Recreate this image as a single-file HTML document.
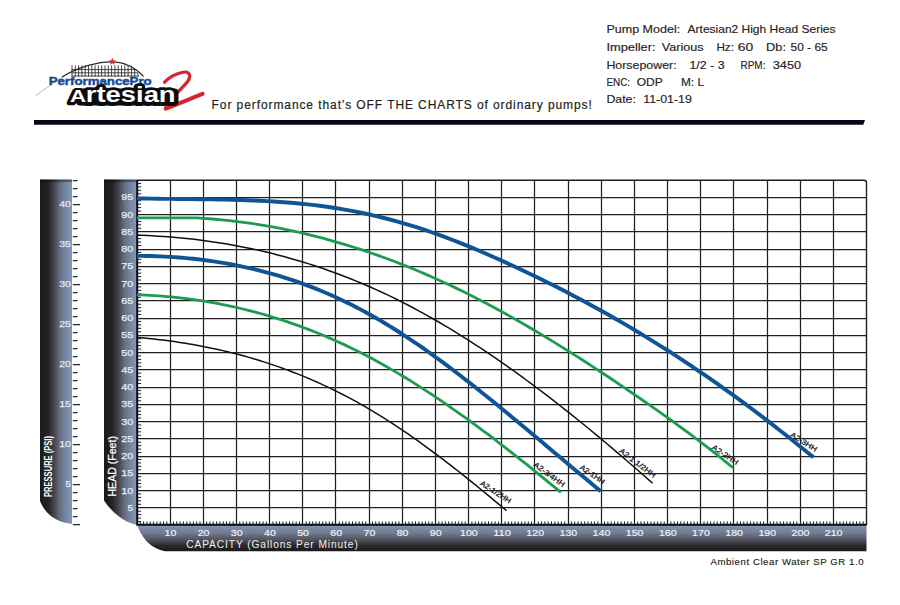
<!DOCTYPE html>
<html><head><meta charset="utf-8"><style>
html,body{margin:0;padding:0;background:#fff;}
body{width:900px;height:605px;overflow:hidden;}
svg{display:block;}
text{font-family:"Liberation Sans", sans-serif;}
</style></head><body>
<svg width="900" height="605" viewBox="0 0 900 605">
<defs>
<linearGradient id="gv" x1="0" y1="0" x2="1" y2="0">
 <stop offset="0" stop-color="#1b1b1c"/>
 <stop offset="0.25" stop-color="#232123"/>
 <stop offset="0.45" stop-color="#45464e"/>
 <stop offset="0.62" stop-color="#676d80"/>
 <stop offset="0.8" stop-color="#7787a3"/>
 <stop offset="1" stop-color="#8298ba"/>
</linearGradient>
<linearGradient id="gh" x1="0" y1="0" x2="0" y2="1">
 <stop offset="0" stop-color="#8494b1"/>
 <stop offset="0.3" stop-color="#727c93"/>
 <stop offset="0.55" stop-color="#52555f"/>
 <stop offset="0.8" stop-color="#27272a"/>
 <stop offset="1" stop-color="#1b1b1c"/>
</linearGradient>
</defs>
<rect width="900" height="605" fill="#fff"/>

<text x="606.4" y="33.3" font-size="10.4" fill="#262324" stroke="#262324" stroke-width="0.15" textLength="73.8" lengthAdjust="spacingAndGlyphs">Pump Model:</text>
<text x="687.6" y="33.3" font-size="10.4" fill="#262324" stroke="#262324" stroke-width="0.15" textLength="147.9" lengthAdjust="spacingAndGlyphs">Artesian2 High Head Series</text>
<text x="606.4" y="51.1" font-size="10.4" fill="#262324" stroke="#262324" stroke-width="0.15" textLength="49.2" lengthAdjust="spacingAndGlyphs">Impeller:</text>
<text x="661.8" y="51.1" font-size="10.4" fill="#262324" stroke="#262324" stroke-width="0.15" textLength="41.8" lengthAdjust="spacingAndGlyphs">Various</text>
<text x="716.4" y="51.1" font-size="10.4" fill="#262324" stroke="#262324" stroke-width="0.15" textLength="17.6" lengthAdjust="spacingAndGlyphs">Hz:</text>
<text x="737.8" y="51.1" font-size="10.4" fill="#262324" stroke="#262324" stroke-width="0.15" textLength="15.4" lengthAdjust="spacingAndGlyphs">60</text>
<text x="766.0" y="51.1" font-size="10.4" fill="#262324" stroke="#262324" stroke-width="0.15" textLength="20.0" lengthAdjust="spacingAndGlyphs">Db:</text>
<text x="790.5" y="51.1" font-size="10.4" fill="#262324" stroke="#262324" stroke-width="0.15" textLength="37.2" lengthAdjust="spacingAndGlyphs">50 - 65</text>
<text x="606.4" y="68.7" font-size="10.4" fill="#262324" stroke="#262324" stroke-width="0.15" textLength="70.3" lengthAdjust="spacingAndGlyphs">Horsepower:</text>
<text x="689.4" y="68.7" font-size="10.4" fill="#262324" stroke="#262324" stroke-width="0.15" textLength="35.2" lengthAdjust="spacingAndGlyphs">1/2 - 3</text>
<text x="740.5" y="68.7" font-size="10.4" fill="#262324" stroke="#262324" stroke-width="0.15" textLength="24.9" lengthAdjust="spacingAndGlyphs">RPM:</text>
<text x="772.7" y="68.7" font-size="10.4" fill="#262324" stroke="#262324" stroke-width="0.15" textLength="28.4" lengthAdjust="spacingAndGlyphs">3450</text>
<text x="606.4" y="85.5" font-size="10.4" fill="#262324" stroke="#262324" stroke-width="0.15" textLength="23.7" lengthAdjust="spacingAndGlyphs">ENC:</text>
<text x="636.7" y="85.5" font-size="10.4" fill="#262324" stroke="#262324" stroke-width="0.15" textLength="26.0" lengthAdjust="spacingAndGlyphs">ODP</text>
<text x="681.0" y="85.5" font-size="10.4" fill="#262324" stroke="#262324" stroke-width="0.15" textLength="23.0" lengthAdjust="spacingAndGlyphs">M: L</text>
<text x="606.4" y="102.5" font-size="10.4" fill="#262324" stroke="#262324" stroke-width="0.15" textLength="29.5" lengthAdjust="spacingAndGlyphs">Date:</text>
<text x="643.2" y="102.5" font-size="10.4" fill="#262324" stroke="#262324" stroke-width="0.15" textLength="48.7" lengthAdjust="spacingAndGlyphs">11-01-19</text>
<text x="211.6" y="109.4" font-size="12" fill="#231f20" stroke="#231f20" stroke-width="0.2" textLength="380.2" lengthAdjust="spacing">For performance that&#8217;s OFF THE CHARTS of ordinary pumps!</text>
<polygon points="34,120 865,120 863.3,124.8 34,124.8" fill="#07061c"/>
<path d="M35.5,95.8 C45,89 55,81.5 64,76.5" stroke="#a0a0a0" stroke-width="0.8" fill="none"/>
<clipPath id="fc"><path d="M60,80 L60,60 L120,60 C128,62 134,66 141,77.5 L141,80 Z"/></clipPath>
<g clip-path="url(#fc)"><path d="M72.0,65.3 V76.6 M75.3,65.3 V76.6 M78.6,65.3 V76.6 M81.9,65.3 V76.6 M85.2,65.3 V76.6 M88.5,65.3 V76.6 M91.8,65.3 V76.6 M95.1,65.3 V76.6 M98.4,65.3 V76.6 M101.7,65.3 V76.6 M105.0,65.3 V76.6 M108.3,65.3 V76.6 M111.6,65.3 V76.6 M114.9,65.3 V76.6 M118.2,65.3 V76.6 M121.5,65.3 V76.6 M124.8,65.3 V76.6 M128.1,65.3 V76.6 M131.4,65.3 V76.6 M134.7,65.3 V76.6 M138.0,65.3 V76.6" stroke="#333" stroke-width="0.9"/><path d="M71.5,69.6 H139 M71.5,72.8 H139 M71.5,76 H139" stroke="#333" stroke-width="0.9"/></g>
<path d="M62,77 C80,66 100,61.5 112,61.8 C124,62 134,66 143.5,76.5" stroke="#2a2a2a" stroke-width="1.2" fill="none"/>
<polygon points="112.30,57.80 113.30,60.22 115.91,60.43 113.92,62.13 114.53,64.67 112.30,63.30 110.07,64.67 110.68,62.13 108.69,60.43 111.30,60.22" fill="#e02a2a"/>
<text x="48.7" y="85.3" font-size="11.4" font-weight="bold" fill="#154b95" stroke="#154b95" stroke-width="0.45" textLength="103" lengthAdjust="spacingAndGlyphs">PerformancePro</text>
<path d="M164.6,82.2 C168,78.5 175,73.8 183,72.2 C189.5,71 191.5,76 188,81 C184,86.5 176,93.5 170,100 C168,103 166.5,106 165.6,108.6" stroke="#d6252c" stroke-width="3.2" fill="none" stroke-linecap="round" stroke-linejoin="round"/>
<path d="M165.6,108.6 C178,104 192,98 202.6,93.8" stroke="#d6252c" stroke-width="4" fill="none" stroke-linecap="round"/>
<rect x="76" y="88.6" width="102.5" height="17" rx="4" fill="#0c0c0c"/>
<g fill="#0c0c0c" stroke="#0c0c0c" stroke-width="4.6" stroke-linejoin="round" transform="translate(-0.9,0.8)"><text x="70" y="102.3" font-size="17.2" font-weight="bold" textLength="16" lengthAdjust="spacingAndGlyphs">A</text><text transform="translate(85.8,102.3) scale(1,1.3)" font-size="17.2" font-weight="bold" textLength="89.8" lengthAdjust="spacingAndGlyphs">rtesian</text></g>
<g fill="#0c0c0c" stroke="#0c0c0c" stroke-width="4.2" stroke-linejoin="round"><text x="70" y="102.3" font-size="17.2" font-weight="bold" textLength="16" lengthAdjust="spacingAndGlyphs">A</text><text transform="translate(85.8,102.3) scale(1,1.3)" font-size="17.2" font-weight="bold" textLength="89.8" lengthAdjust="spacingAndGlyphs">rtesian</text></g>
<g fill="#ffffff"><text x="70" y="102.3" font-size="17.2" font-weight="bold" textLength="16" lengthAdjust="spacingAndGlyphs">A</text><text transform="translate(85.8,102.3) scale(1,1.3)" font-size="17.2" font-weight="bold" textLength="89.8" lengthAdjust="spacingAndGlyphs">rtesian</text></g>
<path d="M40,179.5 H72 V524 C64,523 57,520.5 51.5,516.5 C46,512 42.5,507 40,501 Z" fill="url(#gv)"/>
<rect x="40" y="179.5" width="32" height="2.6" fill="#000" opacity="0.35"/>
<path d="M72.8,524.70 h7.3 M72.8,516.70 h4.8 M72.8,508.70 h4.8 M72.8,500.70 h4.8 M72.8,492.70 h4.8 M72.8,484.70 h7.3 M72.8,476.70 h4.8 M72.8,468.70 h4.8 M72.8,460.70 h4.8 M72.8,452.70 h4.8 M72.8,444.70 h7.3 M72.8,436.70 h4.8 M72.8,428.70 h4.8 M72.8,420.70 h4.8 M72.8,412.70 h4.8 M72.8,404.70 h7.3 M72.8,396.70 h4.8 M72.8,388.70 h4.8 M72.8,380.70 h4.8 M72.8,372.70 h4.8 M72.8,364.70 h7.3 M72.8,356.70 h4.8 M72.8,348.70 h4.8 M72.8,340.70 h4.8 M72.8,332.70 h4.8 M72.8,324.70 h7.3 M72.8,316.70 h4.8 M72.8,308.70 h4.8 M72.8,300.70 h4.8 M72.8,292.70 h4.8 M72.8,284.70 h7.3 M72.8,276.70 h4.8 M72.8,268.70 h4.8 M72.8,260.70 h4.8 M72.8,252.70 h4.8 M72.8,244.70 h7.3 M72.8,236.70 h4.8 M72.8,228.70 h4.8 M72.8,220.70 h4.8 M72.8,212.70 h4.8 M72.8,204.70 h7.3 M72.8,196.70 h4.8 M72.8,188.70 h4.8 M72.8,180.70 h4.8" stroke="#262626" stroke-width="1.2"/>
<text x="65.6" y="487.00" font-size="9.4" fill="#e2e9f4" stroke="#e2e9f4" stroke-width="0.25" textLength="5.4" lengthAdjust="spacingAndGlyphs">5</text>
<text x="59.2" y="447.00" font-size="9.4" fill="#e2e9f4" stroke="#e2e9f4" stroke-width="0.25" textLength="11.8" lengthAdjust="spacingAndGlyphs">10</text>
<text x="59.2" y="407.00" font-size="9.4" fill="#e2e9f4" stroke="#e2e9f4" stroke-width="0.25" textLength="11.8" lengthAdjust="spacingAndGlyphs">15</text>
<text x="59.2" y="367.00" font-size="9.4" fill="#e2e9f4" stroke="#e2e9f4" stroke-width="0.25" textLength="11.8" lengthAdjust="spacingAndGlyphs">20</text>
<text x="59.2" y="327.00" font-size="9.4" fill="#e2e9f4" stroke="#e2e9f4" stroke-width="0.25" textLength="11.8" lengthAdjust="spacingAndGlyphs">25</text>
<text x="59.2" y="287.00" font-size="9.4" fill="#e2e9f4" stroke="#e2e9f4" stroke-width="0.25" textLength="11.8" lengthAdjust="spacingAndGlyphs">30</text>
<text x="59.2" y="247.00" font-size="9.4" fill="#e2e9f4" stroke="#e2e9f4" stroke-width="0.25" textLength="11.8" lengthAdjust="spacingAndGlyphs">35</text>
<text x="59.2" y="207.00" font-size="9.4" fill="#e2e9f4" stroke="#e2e9f4" stroke-width="0.25" textLength="11.8" lengthAdjust="spacingAndGlyphs">40</text>
<text transform="translate(51.6,497.0) rotate(-90)" font-size="11.8" font-weight="bold" fill="#fff" textLength="61" lengthAdjust="spacingAndGlyphs">PRESSURE (PSI)</text>
<path d="M104,179.5 H137 V525 C130,523.5 124,520.5 119,516.5 C113,512 108,506.5 104,500.5 Z" fill="url(#gv)"/>
<rect x="104" y="179.5" width="33" height="2.6" fill="#000" opacity="0.35"/>
<text x="127.6" y="510.75" font-size="9.7" fill="#e6edf7" stroke="#e6edf7" stroke-width="0.25" textLength="5.6" lengthAdjust="spacingAndGlyphs">5</text>
<text x="121.2" y="493.50" font-size="9.7" fill="#e6edf7" stroke="#e6edf7" stroke-width="0.25" textLength="12.0" lengthAdjust="spacingAndGlyphs">10</text>
<text x="121.2" y="476.25" font-size="9.7" fill="#e6edf7" stroke="#e6edf7" stroke-width="0.25" textLength="12.0" lengthAdjust="spacingAndGlyphs">15</text>
<text x="121.2" y="459.00" font-size="9.7" fill="#e6edf7" stroke="#e6edf7" stroke-width="0.25" textLength="12.0" lengthAdjust="spacingAndGlyphs">20</text>
<text x="121.2" y="441.75" font-size="9.7" fill="#e6edf7" stroke="#e6edf7" stroke-width="0.25" textLength="12.0" lengthAdjust="spacingAndGlyphs">25</text>
<text x="121.2" y="424.50" font-size="9.7" fill="#e6edf7" stroke="#e6edf7" stroke-width="0.25" textLength="12.0" lengthAdjust="spacingAndGlyphs">30</text>
<text x="121.2" y="407.25" font-size="9.7" fill="#e6edf7" stroke="#e6edf7" stroke-width="0.25" textLength="12.0" lengthAdjust="spacingAndGlyphs">35</text>
<text x="121.2" y="390.00" font-size="9.7" fill="#e6edf7" stroke="#e6edf7" stroke-width="0.25" textLength="12.0" lengthAdjust="spacingAndGlyphs">40</text>
<text x="121.2" y="372.75" font-size="9.7" fill="#e6edf7" stroke="#e6edf7" stroke-width="0.25" textLength="12.0" lengthAdjust="spacingAndGlyphs">45</text>
<text x="121.2" y="355.50" font-size="9.7" fill="#e6edf7" stroke="#e6edf7" stroke-width="0.25" textLength="12.0" lengthAdjust="spacingAndGlyphs">50</text>
<text x="121.2" y="338.25" font-size="9.7" fill="#e6edf7" stroke="#e6edf7" stroke-width="0.25" textLength="12.0" lengthAdjust="spacingAndGlyphs">55</text>
<text x="121.2" y="321.00" font-size="9.7" fill="#e6edf7" stroke="#e6edf7" stroke-width="0.25" textLength="12.0" lengthAdjust="spacingAndGlyphs">60</text>
<text x="121.2" y="303.75" font-size="9.7" fill="#e6edf7" stroke="#e6edf7" stroke-width="0.25" textLength="12.0" lengthAdjust="spacingAndGlyphs">65</text>
<text x="121.2" y="286.50" font-size="9.7" fill="#e6edf7" stroke="#e6edf7" stroke-width="0.25" textLength="12.0" lengthAdjust="spacingAndGlyphs">70</text>
<text x="121.2" y="269.25" font-size="9.7" fill="#e6edf7" stroke="#e6edf7" stroke-width="0.25" textLength="12.0" lengthAdjust="spacingAndGlyphs">75</text>
<text x="121.2" y="252.00" font-size="9.7" fill="#e6edf7" stroke="#e6edf7" stroke-width="0.25" textLength="12.0" lengthAdjust="spacingAndGlyphs">80</text>
<text x="121.2" y="234.75" font-size="9.7" fill="#e6edf7" stroke="#e6edf7" stroke-width="0.25" textLength="12.0" lengthAdjust="spacingAndGlyphs">85</text>
<text x="121.2" y="217.50" font-size="9.7" fill="#e6edf7" stroke="#e6edf7" stroke-width="0.25" textLength="12.0" lengthAdjust="spacingAndGlyphs">90</text>
<text x="121.2" y="200.25" font-size="9.7" fill="#e6edf7" stroke="#e6edf7" stroke-width="0.25" textLength="12.0" lengthAdjust="spacingAndGlyphs">95</text>
<text transform="translate(115.8,496.5) rotate(-90)" font-size="11.2" fill="#fff" stroke="#fff" stroke-width="0.25" textLength="60.4" lengthAdjust="spacingAndGlyphs">HEAD (Feet)</text>
<path d="M137,525 H866.50 V551.2 H165 C156.5,549.5 150,545.5 145.5,540 C141.5,535 139,530 137,525 Z" fill="url(#gh)"/>
<text x="164.56" y="535.9" font-size="9.6" fill="#eef2f8" stroke="#eef2f8" stroke-width="0.2" textLength="11.8" lengthAdjust="spacingAndGlyphs">10</text>
<text x="197.72" y="535.9" font-size="9.6" fill="#eef2f8" stroke="#eef2f8" stroke-width="0.2" textLength="11.8" lengthAdjust="spacingAndGlyphs">20</text>
<text x="230.88" y="535.9" font-size="9.6" fill="#eef2f8" stroke="#eef2f8" stroke-width="0.2" textLength="11.8" lengthAdjust="spacingAndGlyphs">30</text>
<text x="264.04" y="535.9" font-size="9.6" fill="#eef2f8" stroke="#eef2f8" stroke-width="0.2" textLength="11.8" lengthAdjust="spacingAndGlyphs">40</text>
<text x="297.20" y="535.9" font-size="9.6" fill="#eef2f8" stroke="#eef2f8" stroke-width="0.2" textLength="11.8" lengthAdjust="spacingAndGlyphs">50</text>
<text x="330.35" y="535.9" font-size="9.6" fill="#eef2f8" stroke="#eef2f8" stroke-width="0.2" textLength="11.8" lengthAdjust="spacingAndGlyphs">60</text>
<text x="363.51" y="535.9" font-size="9.6" fill="#eef2f8" stroke="#eef2f8" stroke-width="0.2" textLength="11.8" lengthAdjust="spacingAndGlyphs">70</text>
<text x="396.67" y="535.9" font-size="9.6" fill="#eef2f8" stroke="#eef2f8" stroke-width="0.2" textLength="11.8" lengthAdjust="spacingAndGlyphs">80</text>
<text x="429.83" y="535.9" font-size="9.6" fill="#eef2f8" stroke="#eef2f8" stroke-width="0.2" textLength="11.8" lengthAdjust="spacingAndGlyphs">90</text>
<text x="459.99" y="535.9" font-size="9.6" fill="#eef2f8" stroke="#eef2f8" stroke-width="0.2" textLength="17.8" lengthAdjust="spacingAndGlyphs">100</text>
<text x="493.15" y="535.9" font-size="9.6" fill="#eef2f8" stroke="#eef2f8" stroke-width="0.2" textLength="17.8" lengthAdjust="spacingAndGlyphs">110</text>
<text x="526.31" y="535.9" font-size="9.6" fill="#eef2f8" stroke="#eef2f8" stroke-width="0.2" textLength="17.8" lengthAdjust="spacingAndGlyphs">120</text>
<text x="559.47" y="535.9" font-size="9.6" fill="#eef2f8" stroke="#eef2f8" stroke-width="0.2" textLength="17.8" lengthAdjust="spacingAndGlyphs">130</text>
<text x="592.63" y="535.9" font-size="9.6" fill="#eef2f8" stroke="#eef2f8" stroke-width="0.2" textLength="17.8" lengthAdjust="spacingAndGlyphs">140</text>
<text x="625.78" y="535.9" font-size="9.6" fill="#eef2f8" stroke="#eef2f8" stroke-width="0.2" textLength="17.8" lengthAdjust="spacingAndGlyphs">150</text>
<text x="658.94" y="535.9" font-size="9.6" fill="#eef2f8" stroke="#eef2f8" stroke-width="0.2" textLength="17.8" lengthAdjust="spacingAndGlyphs">160</text>
<text x="692.10" y="535.9" font-size="9.6" fill="#eef2f8" stroke="#eef2f8" stroke-width="0.2" textLength="17.8" lengthAdjust="spacingAndGlyphs">170</text>
<text x="725.26" y="535.9" font-size="9.6" fill="#eef2f8" stroke="#eef2f8" stroke-width="0.2" textLength="17.8" lengthAdjust="spacingAndGlyphs">180</text>
<text x="758.42" y="535.9" font-size="9.6" fill="#eef2f8" stroke="#eef2f8" stroke-width="0.2" textLength="17.8" lengthAdjust="spacingAndGlyphs">190</text>
<text x="791.58" y="535.9" font-size="9.6" fill="#eef2f8" stroke="#eef2f8" stroke-width="0.2" textLength="17.8" lengthAdjust="spacingAndGlyphs">200</text>
<text x="824.74" y="535.9" font-size="9.6" fill="#eef2f8" stroke="#eef2f8" stroke-width="0.2" textLength="17.8" lengthAdjust="spacingAndGlyphs">210</text>
<text x="186.2" y="547.9" font-size="10.2" fill="#f0f0f0" textLength="171.6" lengthAdjust="spacing">CAPACITY (Gallons Per Minute)</text>
<text x="710.4" y="565.0" font-size="9.6" fill="#231f20" stroke="#231f20" stroke-width="0.15" textLength="153.2" lengthAdjust="spacing">Ambient Clear Water SP GR 1.0</text>
<rect x="137.0" y="180" width="729.50" height="345.0" fill="#fff"/>
<path d="M170.50,180 V525.0 M203.50,180 V525.0 M236.50,180 V525.0 M269.50,180 V525.0 M302.50,180 V525.0 M335.50,180 V525.0 M369.50,180 V525.0 M402.50,180 V525.0 M435.50,180 V525.0 M468.50,180 V525.0 M501.50,180 V525.0 M534.50,180 V525.0 M568.50,180 V525.0 M601.50,180 V525.0 M634.50,180 V525.0 M667.50,180 V525.0 M700.50,180 V525.0 M733.50,180 V525.0 M767.50,180 V525.0 M800.50,180 V525.0 M833.50,180 V525.0 M137.0,507.50 H866.50 M137.0,490.50 H866.50 M137.0,473.50 H866.50 M137.0,456.50 H866.50 M137.0,438.50 H866.50 M137.0,421.50 H866.50 M137.0,404.50 H866.50 M137.0,387.50 H866.50 M137.0,369.50 H866.50 M137.0,352.50 H866.50 M137.0,335.50 H866.50 M137.0,318.50 H866.50 M137.0,300.50 H866.50 M137.0,283.50 H866.50 M137.0,266.50 H866.50 M137.0,249.50 H866.50 M137.0,231.50 H866.50 M137.0,214.50 H866.50 M137.0,197.50 H866.50" stroke="#202020" stroke-width="1.25" fill="none"/>
<path d="M137.0,521.55 h4.2 M137.0,518.10 h4.2 M137.0,514.65 h4.2 M137.0,511.20 h4.2 M137.0,504.30 h4.2 M137.0,500.85 h4.2 M137.0,497.40 h4.2 M137.0,493.95 h4.2 M137.0,487.05 h4.2 M137.0,483.60 h4.2 M137.0,480.15 h4.2 M137.0,476.70 h4.2 M137.0,469.80 h4.2 M137.0,466.35 h4.2 M137.0,462.90 h4.2 M137.0,459.45 h4.2 M137.0,452.55 h4.2 M137.0,449.10 h4.2 M137.0,445.65 h4.2 M137.0,442.20 h4.2 M137.0,435.30 h4.2 M137.0,431.85 h4.2 M137.0,428.40 h4.2 M137.0,424.95 h4.2 M137.0,418.05 h4.2 M137.0,414.60 h4.2 M137.0,411.15 h4.2 M137.0,407.70 h4.2 M137.0,400.80 h4.2 M137.0,397.35 h4.2 M137.0,393.90 h4.2 M137.0,390.45 h4.2 M137.0,383.55 h4.2 M137.0,380.10 h4.2 M137.0,376.65 h4.2 M137.0,373.20 h4.2 M137.0,366.30 h4.2 M137.0,362.85 h4.2 M137.0,359.40 h4.2 M137.0,355.95 h4.2 M137.0,349.05 h4.2 M137.0,345.60 h4.2 M137.0,342.15 h4.2 M137.0,338.70 h4.2 M137.0,331.80 h4.2 M137.0,328.35 h4.2 M137.0,324.90 h4.2 M137.0,321.45 h4.2 M137.0,314.55 h4.2 M137.0,311.10 h4.2 M137.0,307.65 h4.2 M137.0,304.20 h4.2 M137.0,297.30 h4.2 M137.0,293.85 h4.2 M137.0,290.40 h4.2 M137.0,286.95 h4.2 M137.0,280.05 h4.2 M137.0,276.60 h4.2 M137.0,273.15 h4.2 M137.0,269.70 h4.2 M137.0,262.80 h4.2 M137.0,259.35 h4.2 M137.0,255.90 h4.2 M137.0,252.45 h4.2 M137.0,245.55 h4.2 M137.0,242.10 h4.2 M137.0,238.65 h4.2 M137.0,235.20 h4.2 M137.0,228.30 h4.2 M137.0,224.85 h4.2 M137.0,221.40 h4.2 M137.0,217.95 h4.2 M137.0,211.05 h4.2 M137.0,207.60 h4.2 M137.0,204.15 h4.2 M137.0,200.70 h4.2 M137.0,193.80 h4.2 M137.0,190.35 h4.2 M137.0,186.90 h4.2 M137.0,183.45 h4.2 M140.32,525.0 v-3.6 M143.63,525.0 v-3.6 M146.95,525.0 v-3.6 M150.26,525.0 v-3.6 M153.58,525.0 v-3.6 M156.90,525.0 v-3.6 M160.21,525.0 v-3.6 M163.53,525.0 v-3.6 M166.84,525.0 v-3.6 M173.47,525.0 v-3.6 M176.79,525.0 v-3.6 M180.11,525.0 v-3.6 M183.42,525.0 v-3.6 M186.74,525.0 v-3.6 M190.05,525.0 v-3.6 M193.37,525.0 v-3.6 M196.69,525.0 v-3.6 M200.00,525.0 v-3.6 M206.63,525.0 v-3.6 M209.95,525.0 v-3.6 M213.27,525.0 v-3.6 M216.58,525.0 v-3.6 M219.90,525.0 v-3.6 M223.21,525.0 v-3.6 M226.53,525.0 v-3.6 M229.85,525.0 v-3.6 M233.16,525.0 v-3.6 M239.79,525.0 v-3.6 M243.11,525.0 v-3.6 M246.42,525.0 v-3.6 M249.74,525.0 v-3.6 M253.06,525.0 v-3.6 M256.37,525.0 v-3.6 M259.69,525.0 v-3.6 M263.00,525.0 v-3.6 M266.32,525.0 v-3.6 M272.95,525.0 v-3.6 M276.27,525.0 v-3.6 M279.58,525.0 v-3.6 M282.90,525.0 v-3.6 M286.22,525.0 v-3.6 M289.53,525.0 v-3.6 M292.85,525.0 v-3.6 M296.16,525.0 v-3.6 M299.48,525.0 v-3.6 M306.11,525.0 v-3.6 M309.43,525.0 v-3.6 M312.74,525.0 v-3.6 M316.06,525.0 v-3.6 M319.37,525.0 v-3.6 M322.69,525.0 v-3.6 M326.01,525.0 v-3.6 M329.32,525.0 v-3.6 M332.64,525.0 v-3.6 M339.27,525.0 v-3.6 M342.59,525.0 v-3.6 M345.90,525.0 v-3.6 M349.22,525.0 v-3.6 M352.53,525.0 v-3.6 M355.85,525.0 v-3.6 M359.17,525.0 v-3.6 M362.48,525.0 v-3.6 M365.80,525.0 v-3.6 M372.43,525.0 v-3.6 M375.74,525.0 v-3.6 M379.06,525.0 v-3.6 M382.38,525.0 v-3.6 M385.69,525.0 v-3.6 M389.01,525.0 v-3.6 M392.32,525.0 v-3.6 M395.64,525.0 v-3.6 M398.96,525.0 v-3.6 M405.59,525.0 v-3.6 M408.90,525.0 v-3.6 M412.22,525.0 v-3.6 M415.54,525.0 v-3.6 M418.85,525.0 v-3.6 M422.17,525.0 v-3.6 M425.48,525.0 v-3.6 M428.80,525.0 v-3.6 M432.12,525.0 v-3.6 M438.75,525.0 v-3.6 M442.06,525.0 v-3.6 M445.38,525.0 v-3.6 M448.69,525.0 v-3.6 M452.01,525.0 v-3.6 M455.33,525.0 v-3.6 M458.64,525.0 v-3.6 M461.96,525.0 v-3.6 M465.27,525.0 v-3.6 M471.91,525.0 v-3.6 M475.22,525.0 v-3.6 M478.54,525.0 v-3.6 M481.85,525.0 v-3.6 M485.17,525.0 v-3.6 M488.49,525.0 v-3.6 M491.80,525.0 v-3.6 M495.12,525.0 v-3.6 M498.43,525.0 v-3.6 M505.06,525.0 v-3.6 M508.38,525.0 v-3.6 M511.70,525.0 v-3.6 M515.01,525.0 v-3.6 M518.33,525.0 v-3.6 M521.64,525.0 v-3.6 M524.96,525.0 v-3.6 M528.28,525.0 v-3.6 M531.59,525.0 v-3.6 M538.22,525.0 v-3.6 M541.54,525.0 v-3.6 M544.86,525.0 v-3.6 M548.17,525.0 v-3.6 M551.49,525.0 v-3.6 M554.80,525.0 v-3.6 M558.12,525.0 v-3.6 M561.44,525.0 v-3.6 M564.75,525.0 v-3.6 M571.38,525.0 v-3.6 M574.70,525.0 v-3.6 M578.01,525.0 v-3.6 M581.33,525.0 v-3.6 M584.65,525.0 v-3.6 M587.96,525.0 v-3.6 M591.28,525.0 v-3.6 M594.59,525.0 v-3.6 M597.91,525.0 v-3.6 M604.54,525.0 v-3.6 M607.86,525.0 v-3.6 M611.17,525.0 v-3.6 M614.49,525.0 v-3.6 M617.81,525.0 v-3.6 M621.12,525.0 v-3.6 M624.44,525.0 v-3.6 M627.75,525.0 v-3.6 M631.07,525.0 v-3.6 M637.70,525.0 v-3.6 M641.02,525.0 v-3.6 M644.33,525.0 v-3.6 M647.65,525.0 v-3.6 M650.96,525.0 v-3.6 M654.28,525.0 v-3.6 M657.60,525.0 v-3.6 M660.91,525.0 v-3.6 M664.23,525.0 v-3.6 M670.86,525.0 v-3.6 M674.18,525.0 v-3.6 M677.49,525.0 v-3.6 M680.81,525.0 v-3.6 M684.12,525.0 v-3.6 M687.44,525.0 v-3.6 M690.76,525.0 v-3.6 M694.07,525.0 v-3.6 M697.39,525.0 v-3.6 M704.02,525.0 v-3.6 M707.33,525.0 v-3.6 M710.65,525.0 v-3.6 M713.97,525.0 v-3.6 M717.28,525.0 v-3.6 M720.60,525.0 v-3.6 M723.91,525.0 v-3.6 M727.23,525.0 v-3.6 M730.55,525.0 v-3.6 M737.18,525.0 v-3.6 M740.49,525.0 v-3.6 M743.81,525.0 v-3.6 M747.13,525.0 v-3.6 M750.44,525.0 v-3.6 M753.76,525.0 v-3.6 M757.07,525.0 v-3.6 M760.39,525.0 v-3.6 M763.71,525.0 v-3.6 M770.34,525.0 v-3.6 M773.65,525.0 v-3.6 M776.97,525.0 v-3.6 M780.28,525.0 v-3.6 M783.60,525.0 v-3.6 M786.92,525.0 v-3.6 M790.23,525.0 v-3.6 M793.55,525.0 v-3.6 M796.86,525.0 v-3.6 M803.50,525.0 v-3.6 M806.81,525.0 v-3.6 M810.13,525.0 v-3.6 M813.44,525.0 v-3.6 M816.76,525.0 v-3.6 M820.08,525.0 v-3.6 M823.39,525.0 v-3.6 M826.71,525.0 v-3.6 M830.02,525.0 v-3.6 M836.65,525.0 v-3.6 M839.97,525.0 v-3.6 M843.29,525.0 v-3.6 M846.60,525.0 v-3.6 M849.92,525.0 v-3.6 M853.23,525.0 v-3.6 M856.55,525.0 v-3.6 M859.87,525.0 v-3.6 M863.18,525.0 v-3.6" stroke="#222" stroke-width="1" fill="none"/>
<path d="M137.0,180.2 H864.00 Q866.50,180.2 866.50,182.7 V525.0" stroke="#1e1e1e" stroke-width="1.4" fill="none"/>
<path d="M137.2,180 V524.7 H866.50" stroke="#0a0a14" stroke-width="2" fill="none"/>
<path d="M137.00,198.38 L143.83,198.53 L150.67,198.65 L157.50,198.75 L164.33,198.84 L171.17,198.92 L178.00,198.99 L184.83,199.06 L191.67,199.12 L198.50,199.20 L205.33,199.28 L212.17,199.38 L219.00,199.49 L225.83,199.63 L232.67,199.79 L239.50,199.98 L246.33,200.20 L253.17,200.46 L260.00,200.77 L266.83,201.12 L273.67,201.52 L280.50,201.97 L287.33,202.48 L294.17,203.05 L301.00,203.69 L307.83,204.40 L314.67,205.18 L321.50,206.04 L328.33,206.98 L335.17,208.01 L342.00,209.13 L348.83,210.34 L355.67,211.64 L362.50,213.03 L369.33,214.51 L376.17,216.09 L383.00,217.75 L389.83,219.51 L396.67,221.36 L403.50,223.30 L410.33,225.33 L417.17,227.46 L424.00,229.68 L430.83,231.99 L437.67,234.39 L444.50,236.88 L451.33,239.46 L458.17,242.12 L465.00,244.86 L471.83,247.67 L478.67,250.54 L485.50,253.48 L492.33,256.47 L499.17,259.52 L506.00,262.61 L512.83,265.75 L519.67,268.93 L526.50,272.16 L533.33,275.44 L540.17,278.77 L547.00,282.14 L553.83,285.57 L560.67,289.04 L567.50,292.57 L574.33,296.15 L581.17,299.77 L588.00,303.46 L594.83,307.19 L601.67,310.98 L608.50,314.82 L615.33,318.72 L622.17,322.67 L629.00,326.68 L635.83,330.75 L642.67,334.88 L649.50,339.06 L656.33,343.30 L663.17,347.61 L670.00,351.97 L676.83,356.39 L683.67,360.88 L690.50,365.42 L697.33,370.03 L704.17,374.69 L711.00,379.42 L717.83,384.20 L724.67,389.05 L731.50,393.95 L738.33,398.91 L745.17,403.93 L752.00,409.01 L758.83,414.15 L765.67,419.35 L772.50,424.60 L779.33,429.92 L786.17,435.29 L793.00,440.72 L799.83,446.20 L806.67,451.75 L813.50,457.36" stroke="#0f5496" stroke-width="3.9" fill="none" stroke-linecap="butt" stroke-linejoin="round"/>
<path d="M137.00,217.82 L143.02,217.82 L149.04,217.82 L155.06,217.82 L161.08,217.82 L167.10,217.82 L173.12,217.82 L179.14,217.82 L185.16,217.82 L191.18,217.82 L197.20,217.97 L203.22,218.33 L209.24,218.75 L215.26,219.24 L221.28,219.79 L227.30,220.40 L233.32,221.07 L239.34,221.80 L245.36,222.59 L251.38,223.45 L257.40,224.37 L263.42,225.34 L269.44,226.38 L275.46,227.48 L281.48,228.64 L287.51,229.86 L293.53,231.14 L299.55,232.49 L305.57,233.89 L311.59,235.35 L317.61,236.87 L323.63,238.45 L329.65,240.10 L335.67,241.80 L341.69,243.56 L347.71,245.38 L353.73,247.26 L359.75,249.19 L365.77,251.19 L371.79,253.25 L377.81,255.36 L383.83,257.53 L389.85,259.77 L395.87,262.06 L401.89,264.40 L407.91,266.81 L413.93,269.27 L419.95,271.79 L425.97,274.37 L431.99,277.01 L438.01,279.70 L444.03,282.45 L450.05,285.26 L456.07,288.12 L462.09,291.05 L468.11,294.02 L474.13,297.06 L480.15,300.15 L486.17,303.29 L492.19,306.49 L498.21,309.74 L504.23,313.04 L510.25,316.39 L516.27,319.79 L522.29,323.23 L528.31,326.72 L534.33,330.26 L540.35,333.84 L546.37,337.46 L552.39,341.12 L558.41,344.83 L564.43,348.57 L570.45,352.35 L576.47,356.17 L582.49,360.02 L588.52,363.91 L594.54,367.83 L600.56,371.78 L606.58,375.76 L612.60,379.77 L618.62,383.82 L624.64,387.88 L630.66,391.98 L636.68,396.10 L642.70,400.24 L648.72,404.42 L654.74,408.62 L660.76,412.86 L666.78,417.14 L672.80,421.47 L678.82,425.84 L684.84,430.25 L690.86,434.72 L696.88,439.25 L702.90,443.84 L708.92,448.48 L714.94,453.20 L720.96,457.98 L726.98,462.84 L733.00,467.77" stroke="#1c9c50" stroke-width="2.8" fill="none" stroke-linecap="butt" stroke-linejoin="round"/>
<path d="M137.00,235.19 L142.21,235.36 L147.42,235.58 L152.62,235.84 L157.83,236.13 L163.04,236.47 L168.25,236.85 L173.46,237.27 L178.66,237.73 L183.87,238.23 L189.08,238.78 L194.29,239.36 L199.50,239.99 L204.71,240.67 L209.91,241.39 L215.12,242.15 L220.33,242.96 L225.54,243.81 L230.75,244.71 L235.95,245.65 L241.16,246.64 L246.37,247.68 L251.58,248.76 L256.79,249.89 L261.99,251.07 L267.20,252.30 L272.41,253.57 L277.62,254.90 L282.83,256.27 L288.03,257.69 L293.24,259.17 L298.45,260.69 L303.66,262.27 L308.87,263.89 L314.07,265.57 L319.28,267.30 L324.49,269.08 L329.70,270.92 L334.91,272.80 L340.12,274.75 L345.32,276.74 L350.53,278.79 L355.74,280.90 L360.95,283.06 L366.16,285.27 L371.36,287.54 L376.57,289.87 L381.78,292.25 L386.99,294.69 L392.20,297.19 L397.40,299.75 L402.61,302.36 L407.82,305.03 L413.03,307.76 L418.24,310.55 L423.44,313.39 L428.65,316.29 L433.86,319.25 L439.07,322.25 L444.28,325.32 L449.48,328.43 L454.69,331.60 L459.90,334.81 L465.11,338.08 L470.32,341.40 L475.53,344.77 L480.73,348.18 L485.94,351.65 L491.15,355.16 L496.36,358.71 L501.57,362.31 L506.77,365.96 L511.98,369.65 L517.19,373.38 L522.40,377.16 L527.61,380.98 L532.81,384.83 L538.02,388.73 L543.23,392.67 L548.44,396.65 L553.65,400.66 L558.85,404.72 L564.06,408.81 L569.27,412.93 L574.48,417.09 L579.69,421.29 L584.89,425.52 L590.10,429.78 L595.31,434.08 L600.52,438.40 L605.73,442.76 L610.94,447.15 L616.14,451.56 L621.35,456.01 L626.56,460.48 L631.77,464.98 L636.98,469.51 L642.18,474.06 L647.39,478.64 L652.60,483.24" stroke="#111111" stroke-width="1.5" fill="none" stroke-linecap="butt" stroke-linejoin="round"/>
<path d="M137.00,255.83 L141.68,255.86 L146.37,255.93 L151.05,256.04 L155.74,256.18 L160.42,256.37 L165.11,256.59 L169.79,256.85 L174.48,257.16 L179.16,257.50 L183.85,257.89 L188.53,258.32 L193.22,258.79 L197.90,259.31 L202.59,259.87 L207.27,260.48 L211.96,261.13 L216.64,261.83 L221.33,262.58 L226.01,263.37 L230.70,264.22 L235.38,265.11 L240.07,266.05 L244.75,267.04 L249.44,268.08 L254.12,269.18 L258.81,270.33 L263.49,271.53 L268.18,272.78 L272.86,274.09 L277.55,275.45 L282.23,276.87 L286.92,278.35 L291.60,279.88 L296.28,281.47 L300.97,283.12 L305.65,284.83 L310.34,286.59 L315.02,288.42 L319.71,290.31 L324.39,292.26 L329.08,294.27 L333.76,296.34 L338.45,298.48 L343.13,300.68 L347.82,302.95 L352.50,305.28 L357.19,307.68 L361.87,310.15 L366.56,312.68 L371.24,315.28 L375.93,317.95 L380.61,320.68 L385.30,323.48 L389.98,326.34 L394.67,329.26 L399.35,332.24 L404.04,335.28 L408.72,338.38 L413.41,341.52 L418.09,344.72 L422.78,347.97 L427.46,351.27 L432.15,354.61 L436.83,358.00 L441.52,361.43 L446.20,364.91 L450.88,368.42 L455.57,371.97 L460.25,375.56 L464.94,379.18 L469.62,382.83 L474.31,386.52 L478.99,390.23 L483.68,393.97 L488.36,397.74 L493.05,401.53 L497.73,405.34 L502.42,409.17 L507.10,413.02 L511.79,416.89 L516.47,420.77 L521.16,424.67 L525.84,428.58 L530.53,432.49 L535.21,436.42 L539.90,440.35 L544.58,444.29 L549.27,448.23 L553.95,452.17 L558.64,456.10 L563.32,460.04 L568.01,463.97 L572.69,467.90 L577.38,471.82 L582.06,475.72 L586.75,479.62 L591.43,483.51 L596.12,487.38 L600.80,491.23" stroke="#0f5496" stroke-width="3.9" fill="none" stroke-linecap="butt" stroke-linejoin="round"/>
<path d="M137.00,294.74 L141.28,294.90 L145.56,295.09 L149.85,295.31 L154.13,295.57 L158.41,295.86 L162.69,296.19 L166.97,296.55 L171.25,296.95 L175.54,297.38 L179.82,297.85 L184.10,298.35 L188.38,298.89 L192.66,299.47 L196.95,300.08 L201.23,300.73 L205.51,301.41 L209.79,302.14 L214.07,302.89 L218.35,303.69 L222.64,304.52 L226.92,305.40 L231.20,306.30 L235.48,307.25 L239.76,308.24 L244.05,309.26 L248.33,310.32 L252.61,311.42 L256.89,312.56 L261.17,313.74 L265.45,314.96 L269.74,316.22 L274.02,317.52 L278.30,318.86 L282.58,320.24 L286.86,321.66 L291.15,323.12 L295.43,324.62 L299.71,326.16 L303.99,327.74 L308.27,329.36 L312.55,331.03 L316.84,332.74 L321.12,334.49 L325.40,336.28 L329.68,338.12 L333.96,339.99 L338.25,341.91 L342.53,343.88 L346.81,345.88 L351.09,347.93 L355.37,350.03 L359.65,352.17 L363.94,354.35 L368.22,356.57 L372.50,358.84 L376.78,361.16 L381.06,363.52 L385.35,365.92 L389.63,368.36 L393.91,370.84 L398.19,373.37 L402.47,375.93 L406.75,378.53 L411.04,381.17 L415.32,383.85 L419.60,386.57 L423.88,389.32 L428.16,392.11 L432.45,394.93 L436.73,397.79 L441.01,400.68 L445.29,403.61 L449.57,406.56 L453.85,409.55 L458.14,412.57 L462.42,415.61 L466.70,418.69 L470.98,421.80 L475.26,424.93 L479.55,428.09 L483.83,431.28 L488.11,434.49 L492.39,437.73 L496.67,441.00 L500.95,444.28 L505.24,447.59 L509.52,450.93 L513.80,454.28 L518.08,457.65 L522.36,461.05 L526.65,464.46 L530.93,467.90 L535.21,471.35 L539.49,474.82 L543.77,478.31 L548.05,481.81 L552.34,485.33 L556.62,488.86 L560.90,492.40" stroke="#1c9c50" stroke-width="2.8" fill="none" stroke-linecap="butt" stroke-linejoin="round"/>
<path d="M137.00,337.37 L140.73,337.70 L144.46,338.04 L148.20,338.41 L151.93,338.80 L155.66,339.21 L159.39,339.65 L163.13,340.10 L166.86,340.58 L170.59,341.08 L174.32,341.60 L178.06,342.15 L181.79,342.71 L185.52,343.31 L189.25,343.93 L192.98,344.57 L196.72,345.24 L200.45,345.93 L204.18,346.65 L207.91,347.39 L211.65,348.16 L215.38,348.96 L219.11,349.79 L222.84,350.64 L226.58,351.52 L230.31,352.42 L234.04,353.36 L237.77,354.32 L241.51,355.31 L245.24,356.34 L248.97,357.39 L252.70,358.47 L256.43,359.58 L260.17,360.72 L263.90,361.90 L267.63,363.10 L271.36,364.34 L275.10,365.60 L278.83,366.90 L282.56,368.24 L286.29,369.60 L290.03,371.00 L293.76,372.43 L297.49,373.90 L301.22,375.40 L304.95,376.93 L308.69,378.50 L312.42,380.10 L316.15,381.74 L319.88,383.42 L323.62,385.13 L327.35,386.88 L331.08,388.66 L334.81,390.48 L338.55,392.34 L342.28,394.24 L346.01,396.17 L349.74,398.15 L353.47,400.16 L357.21,402.21 L360.94,404.30 L364.67,406.43 L368.40,408.60 L372.14,410.81 L375.87,413.06 L379.60,415.35 L383.33,417.68 L387.07,420.04 L390.80,422.44 L394.53,424.88 L398.26,427.35 L401.99,429.86 L405.73,432.40 L409.46,434.97 L413.19,437.57 L416.92,440.21 L420.66,442.88 L424.39,445.57 L428.12,448.29 L431.85,451.05 L435.59,453.82 L439.32,456.63 L443.05,459.46 L446.78,462.31 L450.52,465.19 L454.25,468.09 L457.98,471.02 L461.71,473.96 L465.44,476.93 L469.18,479.91 L472.91,482.92 L476.64,485.94 L480.37,488.98 L484.11,492.03 L487.84,495.11 L491.57,498.19 L495.30,501.30 L499.04,504.41 L502.77,507.54 L506.50,510.68" stroke="#111111" stroke-width="1.5" fill="none" stroke-linecap="butt" stroke-linejoin="round"/>
<text transform="translate(789.7,435.9) rotate(32.4)" font-size="7.4" fill="#111" stroke="#111" stroke-width="0.25" textLength="30.1" lengthAdjust="spacingAndGlyphs">A2-3HH</text>
<text transform="translate(711.3,448.5) rotate(33.8)" font-size="7.4" fill="#111" stroke="#111" stroke-width="0.25" textLength="30.0" lengthAdjust="spacingAndGlyphs">A2-2HH</text>
<text transform="translate(618.7,451.8) rotate(37.2)" font-size="7.4" fill="#111" stroke="#111" stroke-width="0.25" textLength="43.6" lengthAdjust="spacingAndGlyphs">A2-1 1/2HH</text>
<text transform="translate(579.2,468.6) rotate(34.3)" font-size="7.4" fill="#111" stroke="#111" stroke-width="0.25" textLength="28.4" lengthAdjust="spacingAndGlyphs">A2-1HH</text>
<text transform="translate(533.1,465.8) rotate(36.1)" font-size="7.4" fill="#111" stroke="#111" stroke-width="0.25" textLength="36.4" lengthAdjust="spacingAndGlyphs">A2-3/4HH</text>
<text transform="translate(479.4,484.4) rotate(33.0)" font-size="7.4" fill="#111" stroke="#111" stroke-width="0.25" textLength="35.5" lengthAdjust="spacingAndGlyphs">A2-1/2HH</text>
</svg>
</body></html>
